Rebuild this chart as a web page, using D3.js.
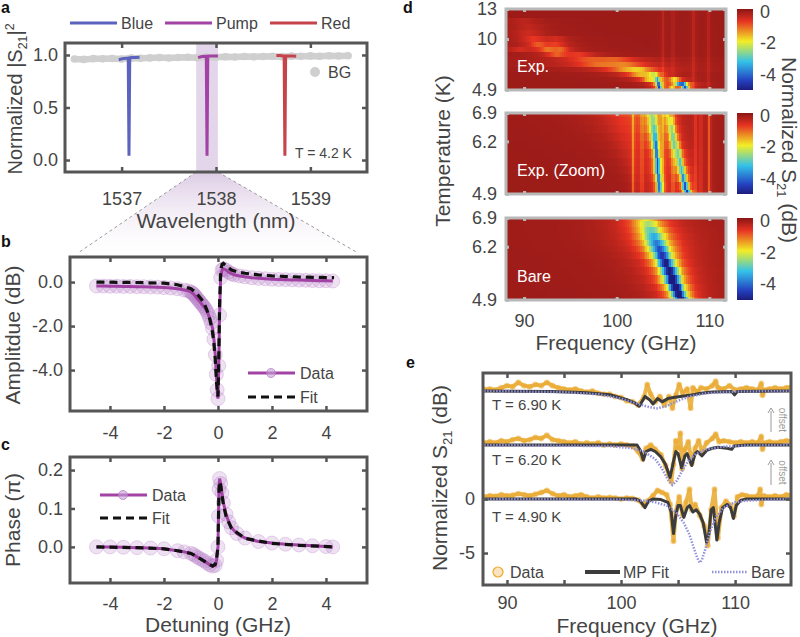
<!DOCTYPE html>
<html>
<head>
<meta charset="utf-8">
<script src="https://cdn.jsdelivr.net/npm/d3@7"></script>
<style>
  body { margin: 0; background: #fff; }
  text { font-family: "Liberation Sans", Arial, sans-serif; fill: #444; }
</style>
</head>
<body>
<div id="fig"></div>
<script>
// ---------- panel a : transmission spectrum ----------
var bgWl = d3.range(0, 30).map(function (i) { return 1536.5 + i * 0.1; });
var bgVal = [0.962,0.958,0.965,0.963,0.967,0.962,0.970,0.968,0.972,0.975,0.971,0.976,0.978,0.974,0.980,
             0.979,0.983,0.981,0.985,0.982,0.986,0.988,0.984,0.989,0.987,0.991,0.988,0.992,0.990,0.993];
var blueWl = [1536.97,1537.01,1537.05,1537.07,1537.078,1537.086,1537.11,1537.15,1537.19];
var blueVal = [0.955,0.965,0.970,0.970,0.04,0.972,0.975,0.975,0.978];
var pumpWl = [1537.81,1537.85,1537.88,1537.897,1537.905,1537.913,1537.94,1537.98,1538.02];
var pumpVal = [0.975,0.985,0.988,0.988,0.04,0.988,0.99,0.99,0.99];
var redWl = [1538.64,1538.68,1538.71,1538.722,1538.73,1538.738,1538.77,1538.81,1538.85];
var redVal = [0.995,0.995,0.99,0.99,0.04,0.99,0.99,0.99,0.988];
var pumpBand = [1537.79, 1538.02];

// ---------- panel b / c : pump resonance ----------
var ampDet = [-4.5,-4.25,-4,-3.75,-3.5,-3.25,-3,-2.75,-2.5,-2.25,-2,-1.75,-1.5,-1.25,-1.1,-1.0,-0.95,-0.9,-0.85,-0.8,-0.75,-0.7,-0.65,-0.6,-0.55,-0.5,-0.45,-0.4,-0.35,-0.3,-0.25,-0.2,-0.15,-0.1,-0.06,-0.03,0,0.03,0.06,0.1,0.15,0.2,0.3,0.4,0.5,0.6,0.8,1.0,1.25,1.5,1.75,2,2.25,2.5,2.75,3,3.25,3.5,3.75,4,4.25];
var ampData = [-0.18,-0.18,-0.19,-0.19,-0.2,-0.2,-0.21,-0.21,-0.22,-0.23,-0.25,-0.27,-0.3,-0.36,-0.4,-0.45,-0.5,-0.55,-0.62,-0.7,-0.78,-0.85,-0.92,-1.0,-1.08,-1.15,-1.25,-1.35,-1.5,-1.65,-1.85,-2.1,-2.6,-3.3,-4.2,-4.9,-5.3,-3.8,-1.5,0.2,0.55,0.6,0.55,0.45,0.38,0.33,0.28,0.24,0.2,0.17,0.15,0.13,0.12,0.11,0.1,0.09,0.08,0.07,0.06,0.06,0.05];
var fitDet = [-4.5,-3,-2,-1.5,-1,-0.8,-0.6,-0.5,-0.4,-0.3,-0.2,-0.15,-0.1,-0.05,0,0.03,0.06,0.1,0.15,0.2,0.3,0.5,0.75,1,1.5,2,3,4.3];
var ampFit = [0,-0.02,-0.05,-0.12,-0.3,-0.5,-0.8,-1.0,-1.3,-1.7,-2.3,-2.8,-3.5,-4.6,-5.2,-3.5,-1.0,0.5,0.8,0.85,0.75,0.55,0.45,0.4,0.33,0.28,0.23,0.2];
var phDet = [-4.5,-4,-3.5,-3,-2.5,-2,-1.5,-1.25,-1.0,-0.9,-0.8,-0.7,-0.6,-0.5,-0.4,-0.3,-0.2,-0.1,-0.05,0,0.02,0.04,0.06,0.1,0.15,0.2,0.3,0.4,0.5,0.7,1.0,1.5,2,2.5,3,3.5,4,4.25];
var phData = [0.0,0.0,-0.001,-0.002,-0.003,-0.005,-0.01,-0.013,-0.017,-0.02,-0.025,-0.029,-0.033,-0.037,-0.042,-0.047,-0.05,-0.048,-0.035,0.0,0.08,0.15,0.178,0.165,0.14,0.115,0.085,0.065,0.05,0.035,0.023,0.014,0.01,0.007,0.005,0.003,0.001,0.0];
var phFitDet = [-4.5,-3,-2,-1.5,-1,-0.6,-0.4,-0.2,-0.1,-0.05,0,0.02,0.04,0.06,0.1,0.15,0.2,0.3,0.5,1,2,3,4.3];
var phFit = [0,-0.002,-0.005,-0.01,-0.017,-0.033,-0.042,-0.05,-0.045,-0.03,0.0,0.08,0.15,0.17,0.16,0.135,0.11,0.08,0.048,0.022,0.009,0.004,0.0];

// ---------- panel d : heat maps (rows of resonance dips [f0, depth dB, half width]) ----------
var exp1T = [13.0,12.4,11.8,11.2,10.6,10.0,9.5,9.0,8.5,8.0,7.5,7.0,6.5,6.0,5.5,5.1,4.9];
var exp1Stripes = [[105.0,-0.25,0.12],[106.1,-0.25,0.12],[108.3,-0.35,0.15],[109.9,-0.35,0.12]];
var exp1Dips = [
  [], [], [[90,-0.25,1.5]], [[90.5,-0.3,1.5]], [[90.5,-0.4,1.5]],
  [[91.0,-0.6,1.2],[93.5,-0.35,1.0]],
  [[91.5,-0.8,1.0],[93.5,-0.55,1.0]],
  [[92.5,-0.9,1.0],[94.0,-0.7,0.8],[89.5,-0.35,1.0]],
  [[93.5,-0.8,1.0],[96,-0.55,1.5]],
  [[97,-0.7,2.5],[100,-0.65,2]],
  [[98,-0.8,2.5],[101,-0.85,2]],
  [[101,-0.9,2],[102.5,-1.1,1.5]],
  [[102.5,-1.3,1.2],[104,-1.7,0.6]],
  [[103.5,-1.4,0.8],[104.4,-2.8,0.3],[106.3,-1.6,0.5]],
  [[104.5,-4.2,0.3],[106.7,-2.5,0.4],[107.2,-3.0,0.4]],
  [[104.6,-4.3,0.25],[107.4,-4.2,0.3],[106,-1.5,0.3]],
  [[104.6,-3.5,0.25],[107.6,-3.8,0.3],[108.4,-1.5,0.2]]
];
var zoomT = [6.9,6.7,6.5,6.3,6.1,5.9,5.7,5.5,5.3,5.1,4.9];
var zoomStripes = [[101.8,-0.8,0.12],[102.7,-0.6,0.15],[104.95,-0.6,0.1],[106.1,-0.8,0.12],[108.5,-0.7,0.12],[109.1,-0.5,0.12],[110.0,-0.8,0.12]];
var zoomDips = [
  [[100.8,-0.65,2.5],[103.8,-2.1,0.6],[105.5,-1.5,0.45]],
  [[100.9,-0.55,2.3],[103.9,-2.3,0.55],[105.7,-1.7,0.45]],
  [[101.0,-0.5,2.1],[104.0,-2.7,0.5],[105.9,-1.9,0.45]],
  [[101.2,-0.45,1.9],[104.1,-3.2,0.4],[106.1,-2.1,0.45]],
  [[101.4,-0.4,1.7],[104.2,-3.7,0.35],[106.3,-2.3,0.45]],
  [[101.6,-0.35,1.5],[104.3,-4.0,0.3],[106.6,-2.6,0.45]],
  [[101.8,-0.3,1.3],[104.4,-4.2,0.3],[106.8,-2.9,0.4]],
  [[102.0,-0.25,1.1],[104.4,-4.2,0.3],[107.0,-3.2,0.4]],
  [[102.2,-0.2,1.0],[104.5,-4.0,0.3],[107.2,-3.6,0.35]],
  [[102.4,-0.15,0.9],[104.6,-3.8,0.3],[107.4,-4.2,0.3]],
  [[102.6,-0.1,0.8],[104.6,-3.6,0.3],[107.6,-4.5,0.3]]
];
var bareT = [6.9,6.75,6.6,6.45,6.3,6.15,6.0,5.8,5.6,5.4,5.2,5.05,4.9];
var bareF0 = [103.1,103.4,103.7,104.0,104.3,104.6,104.9,105.3,105.7,106.0,106.4,106.7,106.9];
var bareDepth = [-1.9,-2.4,-2.9,-3.4,-3.9,-4.3,-4.6,-5.0,-5.3,-5.5,-5.6,-5.7,-5.8];
var bareWidth = [1.6,1.5,1.4,1.3,1.2,1.1,1.0,0.9,0.85,0.8,0.75,0.7,0.7];

// ---------- panel e : spectra at three temperatures ----------
var fit49 = [[88,0],[101.3,0],[101.7,-0.2],[102.1,-0.8],[102.4,-0.2],[102.8,0],[103.5,-0.05],[104.1,-0.3],[104.4,-1.2],[104.6,-3.2],[104.8,-1.5],[105.0,-0.6],[105.2,-0.6],[105.5,-1.7],[105.8,-0.8],[106.0,-0.6],[106.3,-1.2],[106.6,-1.0],[106.9,-1.4],[107.2,-2.2],[107.5,-4.0],[107.7,-3.2],[107.9,-1.0],[108.1,-0.8],[108.4,-3.8],[108.6,-2.2],[108.9,-0.8],[109.3,-0.5],[109.6,-0.8],[109.85,-1.8],[110.1,-0.6],[110.5,-0.1],[111,0],[115,0]];
var bare49 = [[88,0],[100,-0.05],[102,-0.15],[103,-0.3],[104,-0.6],[104.8,-1.2],[105.5,-2.2],[106,-3.3],[106.4,-4.6],[106.7,-5.5],[106.9,-5.9],[107.1,-5.6],[107.4,-4.6],[107.8,-3.0],[108.3,-1.7],[109,-0.8],[110,-0.3],[111,-0.15],[113,-0.05],[115,0]];
var data49 = [[88,0.2],[88.5,0.3],[89,0.25],[89.5,0.4],[90,0.3],[90.5,0.35],[91,0.5],[91.5,0.4],[92,0.3],[92.5,0.45],[93,0.6],[93.5,0.8],[94,0.5],[94.5,0.3],[95,0.4],[95.5,0.2],[96,0.3],[96.5,0.4],[97,0.2],[97.5,0.1],[98,0.2],[98.5,0.1],[99,0.15],[99.5,0.1],[100,0.0],[100.5,0.1],[101,0.05],[101.5,-0.1],[102,-0.6],[102.3,-0.2],[102.8,0.3],[103.2,0.8],[103.6,0.6],[104,0.4],[104.3,-0.5],[104.6,-3.9],[104.8,-1.2],[105.1,0.2],[105.4,-1.5],[105.7,-0.3],[106,0.9],[106.2,-1.0],[106.5,-0.5],[106.9,-1.5],[107.3,-2.5],[107.6,-4.3],[107.9,-1.0],[108.2,0.9],[108.5,-3.6],[108.8,-0.8],[109.2,-0.2],[109.6,-0.6],[109.9,-1.6],[110.2,0.2],[110.6,0.4],[111,0.3],[111.5,0.2],[112,0.3],[112.2,0.9],[112.3,-0.5],[112.5,0.3],[113,0.2],[113.5,0.3],[114,0.2],[114.5,0.4],[115,0.3]];
var fit62 = [[88,0],[101.4,0],[101.7,-0.5],[101.95,-1.4],[102.2,-0.6],[102.6,-0.4],[103.0,-0.6],[103.5,-1.1],[103.9,-1.8],[104.3,-3.0],[104.6,-1.5],[104.8,-0.6],[105.0,-0.8],[105.3,-2.1],[105.6,-1.0],[105.8,-0.8],[106.2,-1.9],[106.5,-0.8],[106.7,-0.6],[107.1,-1.0],[107.5,-0.5],[108,-0.3],[108.5,-0.2],[109.3,-0.3],[109.7,-0.4],[109.9,-0.1],[111,0],[115,0]];
var bare62 = [[88,0],[99,-0.1],[101,-0.3],[102,-0.6],[103,-1.3],[103.6,-2.2],[104.1,-3.2],[104.5,-3.7],[104.9,-3.3],[105.4,-2.3],[106,-1.3],[106.6,-0.8],[107.5,-0.4],[109,-0.15],[111,-0.05],[115,0]];
var data62 = [[88,0.2],[88.5,0.3],[89,0.2],[89.5,0.4],[90,0.3],[90.5,0.5],[91,0.6],[91.5,0.4],[92,0.5],[92.5,0.7],[93,0.6],[93.5,0.9],[94,0.5],[94.5,0.4],[95,0.3],[95.5,0.2],[96,0.3],[96.5,0.1],[97,0.2],[97.5,0.1],[98,0.2],[98.5,0.0],[99,0.1],[99.5,0.0],[100,0.1],[100.5,0.0],[101,-0.1],[101.5,-0.6],[101.9,-1.3],[102.2,-0.3],[102.6,0.0],[103,-0.4],[103.5,-0.9],[103.9,-1.9],[104.2,-2.8],[104.4,-3.4],[104.6,-1.8],[104.8,0.4],[105.0,-0.3],[105.2,1.1],[105.35,-2.2],[105.6,-0.4],[105.9,0.3],[106.2,-1.7],[106.5,-0.3],[106.8,0.4],[107.1,-0.6],[107.5,0.2],[108,0.6],[108.3,1.0],[108.6,0.3],[109,0.4],[109.5,0.3],[110,0.2],[110.5,0.3],[111,0.2],[111.5,0.3],[112,0.2],[112.3,0.8],[112.4,-0.4],[112.6,0.2],[113,0.3],[113.5,0.2],[114,0.3],[114.5,0.4],[115,0.3]];
var fit69 = [[88,0],[94,-0.05],[97,-0.15],[99,-0.35],[100.5,-0.8],[101.2,-1.1],[101.6,-1.4],[102.1,-0.5],[102.5,-0.8],[102.8,-1.2],[103.2,-0.7],[103.6,-1.0],[104.1,-0.7],[104.6,-0.6],[105.2,-0.5],[106,-0.4],[107,-0.2],[108,-0.1],[109.7,-0.05],[109.95,-0.35],[110.2,-0.05],[115,0]];
var bare69 = [[88,0],[95,-0.1],[98,-0.3],[100,-0.7],[101.5,-1.2],[102.5,-1.5],[103.2,-1.6],[104,-1.4],[105,-0.9],[106,-0.5],[107.5,-0.2],[110,-0.05],[115,0]];
var data69 = [[88,0.15],[88.5,0.2],[89,0.1],[89.5,0.3],[90,0.5],[90.5,0.4],[91,0.8],[91.5,0.5],[92,0.4],[92.5,0.6],[93,0.5],[93.5,0.8],[94,0.5],[94.5,0.3],[95,0.2],[95.5,0.1],[96,0.2],[96.5,0.0],[97,-0.1],[97.5,0.0],[98,-0.2],[98.5,-0.3],[99,-0.3],[99.5,-0.5],[100,-0.6],[100.5,-0.9],[101,-1.0],[101.5,-1.3],[102,-0.6],[102.3,0.6],[102.6,-0.3],[103,-1.0],[103.4,-0.5],[103.8,-1.3],[104.2,-0.5],[104.5,-1.6],[104.8,-0.4],[105.1,0.6],[105.4,-0.2],[105.8,0.2],[106.1,-1.6],[106.3,0.3],[106.7,-0.1],[107,0.3],[107.5,0.2],[108,0.5],[108.3,0.9],[108.5,0.3],[109,0.2],[109.5,0.5],[110,0.1],[110.5,0.2],[111,0.3],[111.5,0.2],[112,0.1],[112.3,0.7],[112.4,-0.4],[112.6,0.1],[113,0.2],[113.5,0.3],[114,0.2],[114.5,0.3],[115,0.4]];
var eOffsets = [0, 5, 10];
var eLabels = ["T = 4.90 K", "T = 6.20 K", "T = 6.90 K"];

// ---------- figure ----------
var ink = "#555", purple = "#a142a4", lav = "rgba(178,120,196,0.22)";
var orange = "#e9a82a", fitCol = "#3c3c3c", bareCol = "#9090dc";

var svg = d3.select("#fig").append("svg")
    .attr("width", 800)
    .attr("height", 637);
var defs = svg.append("defs");

// box with inward ticks on all sides
function frame(g, x, y, o) {
    var xr = x.range(), yr = y.range();
    var tl = o.tl || 5;
    var list = [
        [d3.axisBottom(x).tickValues(o.xt).tickSize(-tl).tickPadding(o.xpad || 16).tickFormat(o.xf || function () { return ""; }), "translate(0," + yr[0] + ")"],
        [d3.axisTop(x).tickValues(o.xt).tickSize(-tl).tickFormat(function () { return ""; }), "translate(0," + yr[1] + ")"],
        [d3.axisLeft(y).tickValues(o.yt).tickSize(-tl).tickPadding(o.ypad || 7).tickFormat(o.yf || function () { return ""; }), "translate(" + xr[0] + ",0)"],
        [d3.axisRight(y).tickValues(o.yt).tickSize(-tl).tickFormat(function () { return ""; }), "translate(" + xr[1] + ",0)"]
    ];
    list.forEach(function (a) {
        var ax = g.append("g").attr("transform", a[1]).call(a[0]);
        ax.attr("font-family", null).attr("font-size", null);
        ax.select(".domain").remove();
        ax.selectAll("line").attr("stroke", o.color).attr("stroke-width", o.tw || 2.5);
        ax.selectAll("text").attr("fill", "#444").attr("font-size", o.fs || 18);
        ax.selectAll("text").filter(function () { return this.textContent === ""; }).remove();
    });
    g.append("rect")
        .attr("x", xr[0]).attr("y", yr[1])
        .attr("width", xr[1] - xr[0]).attr("height", yr[0] - yr[1])
        .attr("fill", "none").attr("stroke", o.color).attr("stroke-width", o.sw || 3);
}

function ylabel(g, x, y, size, parts, rot) {
    var t = g.append("text")
        .attr("transform", "translate(" + x + "," + y + ") rotate(" + (rot || -90) + ")")
        .attr("text-anchor", "middle")
        .attr("font-size", size);
    parts.forEach(function (p) {
        var s = t.append("tspan").text(p[0]);
        if (p[1] === "sub") s.attr("font-size", size * 0.62).attr("dy", size * 0.25);
        if (p[1] === "up") s.attr("dy", -size * 0.25);
        if (p[1] === "sup") s.attr("font-size", size * 0.62).attr("dy", -size * 0.4);
    });
    return t;
}

function panelLetter(x, y, s) {
    svg.append("text").attr("x", x).attr("y", y).text(s)
        .attr("font-weight", "bold").attr("font-size", 16).style("fill", "#111");
}

function fmt1(v) { return v.toFixed(1); }

// ===== panel a =====
var xA = d3.scaleLinear([1536.4, 1539.6], [65, 367]);
var yA = d3.scaleLinear([-0.114, 1.114], [172, 43]);
var gA = svg.append("g");

// zoom trapezoid towards panel b
var grad = defs.append("linearGradient").attr("id", "fade").attr("x1", 0).attr("y1", 0).attr("x2", 0).attr("y2", 1);
grad.append("stop").attr("offset", 0).attr("stop-color", "#dccbe4");
grad.append("stop").attr("offset", 1).attr("stop-color", "#ffffff").attr("stop-opacity", 0.3);
var bx0 = xA(pumpBand[0]), bx1 = xA(pumpBand[1]);
gA.append("path")
    .attr("d", "M" + bx0 + ",172 L" + bx1 + ",172 L358,253 L78,253 Z")
    .attr("fill", "url(#fade)");
[[bx0, 78], [bx1, 358]].forEach(function (p) {
    gA.append("line").attr("x1", p[0]).attr("y1", 172).attr("x2", p[1]).attr("y2", 253)
        .attr("stroke", "#999").attr("stroke-width", 1).attr("stroke-dasharray", "3,3");
});
gA.append("rect").attr("x", bx0).attr("y", 43).attr("width", bx1 - bx0).attr("height", 129)
    .attr("fill", "#e4d6ea");

var lineA = d3.line().x(function (d) { return xA(d[0]); }).y(function (d) { return yA(d[1]); });
var bgPts = d3.zip(bgWl, bgVal);
gA.append("path").attr("d", lineA(bgPts)).attr("fill", "none").attr("stroke", "#d0d0d0").attr("stroke-width", 6.5);
gA.selectAll(".bg").data(bgPts).enter().append("circle")
    .attr("cx", function (d) { return xA(d[0]); })
    .attr("cy", function (d) { return yA(d[1]); })
    .attr("r", 3.8).attr("fill", "#cfcfcf");

var aSeries = [[blueWl, blueVal, "#5b63be", "Blue"], [pumpWl, pumpVal, purple, "Pump"], [redWl, redVal, "#c6434b", "Red"]];
aSeries.forEach(function (s) {
    gA.append("path").attr("d", lineA(d3.zip(s[0], s[1])))
        .attr("fill", "none").attr("stroke", s[2]).attr("stroke-width", 3);
});
frame(gA, xA, yA, { xt: [1537, 1538, 1539], yt: [0, 0.5, 1], xf: String, yf: fmt1, color: ink, xpad: 20 });

// legend of panel a
var legX = [70, 165, 270];
aSeries.forEach(function (s, i) {
    gA.append("line").attr("x1", legX[i]).attr("x2", legX[i] + 47).attr("y1", 23).attr("y2", 23)
        .attr("stroke", s[2]).attr("stroke-width", 3);
    gA.append("text").attr("x", legX[i] + 51).attr("y", 29).attr("font-size", 16).text(s[3]);
});
gA.append("circle").attr("cx", 315).attr("cy", 72).attr("r", 5).attr("fill", "#cfcfcf");
gA.append("text").attr("x", 328).attr("y", 78).attr("font-size", 16).text("BG");
gA.append("text").attr("x", 295).attr("y", 158).attr("font-size", 14).text("T = 4.2 K");
gA.append("text").attr("x", 216).attr("y", 228).attr("text-anchor", "middle").attr("font-size", 21).text("Wavelength (nm)");
ylabel(gA, 22, 99, 20, [["Normalized |S"], ["21", "sub"], ["|", "up"], ["2", "sup"]]);
panelLetter(1, 13, "a");

// ===== panel b =====
var xB = d3.scaleLinear([-5.48, 5.52], [70, 367]);
var yB = d3.scaleLinear([-5.86, 1.14], [411, 257]);
var gB = svg.append("g");
var lineB = d3.line().x(function (d) { return xB(d[0]); }).y(function (d) { return yB(d[1]); });
var bData = d3.zip(ampDet, ampData);
gB.selectAll(".m").data(bData).enter().append("circle")
    .attr("cx", function (d) { return xB(d[0]); })
    .attr("cy", function (d) { return yB(d[1]); })
    .attr("r", 7).attr("fill", lav).attr("stroke", "rgba(178,120,196,0.3)");
gB.append("path").attr("d", lineB(bData)).attr("fill", "none").attr("stroke", purple).attr("stroke-width", 3);
gB.append("path").attr("d", lineB(d3.zip(fitDet, ampFit))).attr("fill", "none")
    .attr("stroke", "#111").attr("stroke-width", 3.2).attr("stroke-dasharray", "8,5");
frame(gB, xB, yB, { xt: [-4, -2, 0, 2, 4], yt: [-4, -2, 0], xf: String, yf: fmt1, color: ink, xpad: 15 });
ylabel(gB, 20, 335, 21, [["Amplitdue (dB)"]]);
panelLetter(1, 247, "b");

function dataFitLegend(g, x, y1, y2) {
    g.append("line").attr("x1", x).attr("x2", x + 47).attr("y1", y1).attr("y2", y1).attr("stroke", purple).attr("stroke-width", 3);
    g.append("circle").attr("cx", x + 23).attr("cy", y1).attr("r", 4.5).attr("fill", "rgba(200,160,215,0.6)").attr("stroke", "rgba(178,120,196,0.7)");
    g.append("text").attr("x", x + 52).attr("y", y1 + 6).attr("font-size", 16).text("Data");
    g.append("line").attr("x1", x).attr("x2", x + 47).attr("y1", y2).attr("y2", y2).attr("stroke", "#111")
        .attr("stroke-width", 3.2).attr("stroke-dasharray", "8,5");
    g.append("text").attr("x", x + 52).attr("y", y2 + 6).attr("font-size", 16).text("Fit");
}
dataFitLegend(gB, 248, 373, 397);

// ===== panel c =====
var xC = d3.scaleLinear([-5.48, 5.52], [70, 367]);
var yC = d3.scaleLinear([-0.094, 0.234], [583, 457]);
var gC = svg.append("g");
var lineC = d3.line().x(function (d) { return xC(d[0]); }).y(function (d) { return yC(d[1]); });
var cData = d3.zip(phDet, phData);
gC.selectAll(".m").data(cData).enter().append("circle")
    .attr("cx", function (d) { return xC(d[0]); })
    .attr("cy", function (d) { return yC(d[1]); })
    .attr("r", 7).attr("fill", lav).attr("stroke", "rgba(178,120,196,0.3)");
gC.append("path").attr("d", lineC(cData)).attr("fill", "none").attr("stroke", purple).attr("stroke-width", 3);
gC.append("path").attr("d", lineC(d3.zip(phFitDet, phFit))).attr("fill", "none")
    .attr("stroke", "#111").attr("stroke-width", 3.2).attr("stroke-dasharray", "8,5");
frame(gC, xC, yC, { xt: [-4, -2, 0, 2, 4], yt: [0, 0.1, 0.2], xf: String, yf: fmt1, color: ink, xpad: 14 });
dataFitLegend(gC, 100, 495, 518);
gC.append("text").attr("x", 218).attr("y", 632).attr("text-anchor", "middle").attr("font-size", 21).text("Detuning (GHz)");
ylabel(gC, 20, 520, 21, [["Phase (\u03c0)"]]);
panelLetter(1, 450, "c");

// ===== panel d =====
var jet = d3.scaleLinear()
    .domain([0, 0.12, 0.35, 0.6, 0.85, 1].map(function (t) { return -5 + t * 5.15; }))
    .range(["#1c1c7c", "#2442c2", "#34c2e8", "#f2ee26", "#e63222", "#8a1616"])
    .clamp(true);
var xD = d3.scaleLinear([88.05, 111.8], [506, 726]);
var freqGrid = d3.range(88, 112.01, 0.2);

function dipValue(f, dips) {
    var v = 0;
    dips.forEach(function (p) { v += p[1] * p[2] * p[2] / ((f - p[0]) * (f - p[0]) + p[2] * p[2]); });
    return Math.max(v, -5);
}

function heatmap(id, top, bottom, tDom, Ts, rows, yt, label, showX) {
    var y = d3.scaleLinear(tDom, [bottom, top]);
    var g = svg.append("g");
    defs.append("clipPath").attr("id", id).append("rect")
        .attr("x", 506).attr("y", top).attr("width", 220).attr("height", bottom - top);
    var cells = g.append("g").attr("clip-path", "url(#" + id + ")").attr("shape-rendering", "crispEdges");
    Ts.forEach(function (T, i) {
        var hi = i === 0 ? tDom[1] + 0.5 : (T + Ts[i - 1]) / 2;
        var lo = i === Ts.length - 1 ? tDom[0] - 0.5 : (T + Ts[i + 1]) / 2;
        freqGrid.forEach(function (f) {
            cells.append("rect")
                .attr("x", xD(f - 0.1)).attr("y", y(hi))
                .attr("width", xD(f + 0.1) - xD(f - 0.1) + 0.6)
                .attr("height", y(lo) - y(hi) + 0.6)
                .attr("fill", jet(dipValue(f, rows[i])));
        });
    });
    frame(g, xD, y, {
        xt: [90, 100, 110], yt: yt, xf: showX ? String : null, yf: String,
        color: "#b8b8b8", tl: 3, tw: 3, sw: 3, xpad: 14, ypad: 9
    });
    g.append("text").attr("x", 517).attr("y", bottom - 18).attr("font-size", 16)
        .style("fill", "#fff").text(label);
    // colour bar
    var cb = d3.scaleLinear([-5, 0.15], [bottom, top]);
    var cbg = g.append("g").attr("shape-rendering", "crispEdges");
    d3.range(top, bottom, 1).forEach(function (py) {
        cbg.append("rect").attr("x", 737).attr("y", py).attr("width", 16).attr("height", 1.2)
            .attr("fill", jet(cb.invert(py + 0.5)));
    });
    [0, -2, -4].forEach(function (v) {
        g.append("text").attr("x", 760).attr("y", cb(v)).attr("dy", "0.35em")
            .attr("font-size", 18).text(String(v));
    });
}

var exp1Rows = exp1Dips.map(function (r) { return r.concat(exp1Stripes); });
var zoomRows = zoomDips.map(function (r) { return r.concat(zoomStripes); });
var bareRows = bareT.map(function (t, i) { return [[bareF0[i], bareDepth[i], bareWidth[i]]]; });
heatmap("h1", 9, 90, [4.9, 13], exp1T, exp1Rows, [4.9, 10, 13], "Exp.", false);
heatmap("h2", 113, 194, [4.9, 6.9], zoomT, zoomRows, [4.9, 6.2, 6.9], "Exp. (Zoom)", false);
heatmap("h3", 218, 300, [4.9, 6.9], bareT, bareRows, [4.9, 6.2, 6.9], "Bare", true);

svg.append("text").attr("x", 616).attr("y", 350).attr("text-anchor", "middle").attr("font-size", 21).text("Frequency (GHz)");
ylabel(svg, 450, 151, 21, [["Temperature (K)"]]);
ylabel(svg, 782, 150, 21, [["Normalized S"], ["21", "sub"], [" (dB)", "up"]], 90);
panelLetter(403, 13, "d");

// ===== panel e =====
var xE = d3.scaleLinear([87.9, 114.9], [483, 791]);
var yE = d3.scaleLinear([-7.96, 11.67], [585, 373]);
var gE = svg.append("g");
defs.append("clipPath").attr("id", "ce").append("rect").attr("x", 483).attr("y", 373).attr("width", 308).attr("height", 212);
var plotE = gE.append("g").attr("clip-path", "url(#ce)");
var eData = [data49, data62, data69], eFit = [fit49, fit62, fit69], eBare = [bare49, bare62, bare69];
eOffsets.forEach(function (off, i) {
    var lineE = d3.line().x(function (d) { return xE(d[0]); }).y(function (d) { return yE(d[1] + off); });
    plotE.append("path").attr("d", lineE(eData[i])).attr("fill", "none")
        .attr("stroke", orange).attr("stroke-width", 4).attr("stroke-opacity", 0.85).attr("stroke-linejoin", "round");
    plotE.selectAll(".d" + i).data(eData[i]).enter().append("circle")
        .attr("cx", function (d) { return xE(d[0]); })
        .attr("cy", function (d) { return yE(d[1] + off); })
        .attr("r", 3).attr("fill", orange).attr("fill-opacity", 0.5);
    plotE.append("path").attr("d", lineE(eFit[i])).attr("fill", "none")
        .attr("stroke", fitCol).attr("stroke-width", 3).attr("stroke-linejoin", "round");
    plotE.append("path").attr("d", lineE(eBare[i])).attr("fill", "none")
        .attr("stroke", bareCol).attr("stroke-width", 2.5).attr("stroke-dasharray", "1.5,1.5");
});
frame(gE, xE, yE, { xt: [90, 95, 100, 105, 110], yt: [-5, 0], xf: function (v) { return v % 10 === 0 ? String(v) : ""; }, yf: String, color: ink, xpad: 11, ypad: 8 });

var tY = [522, 465, 410];
eLabels.forEach(function (s, i) {
    gE.append("text").attr("x", 492).attr("y", tY[i]).attr("font-size", 15).text(s);
});
// offset arrows
[[408, 432], [460, 485]].forEach(function (p) {
    gE.append("line").attr("x1", 771).attr("x2", 771).attr("y1", p[1]).attr("y2", p[0] + 3)
        .attr("stroke", "#999").attr("stroke-width", 1);
    gE.append("path").attr("d", "M768," + (p[0] + 5) + " L771," + p[0] + " L774," + (p[0] + 5))
        .attr("fill", "none").attr("stroke", "#999").attr("stroke-width", 1);
    gE.append("text").attr("transform", "translate(779," + ((p[0] + p[1]) / 2) + ") rotate(90)")
        .attr("text-anchor", "middle").attr("font-size", 10).style("fill", "#999").text("offset");
});
// legend of panel e
gE.append("circle").attr("cx", 498).attr("cy", 572).attr("r", 5).attr("fill", "rgba(233,168,42,0.3)").attr("stroke", orange).attr("stroke-width", 1.2);
gE.append("text").attr("x", 510).attr("y", 578).attr("font-size", 16).text("Data");
gE.append("line").attr("x1", 585).attr("x2", 620).attr("y1", 572).attr("y2", 572).attr("stroke", fitCol).attr("stroke-width", 4);
gE.append("text").attr("x", 623).attr("y", 578).attr("font-size", 16).text("MP Fit");
gE.append("line").attr("x1", 712).attr("x2", 747).attr("y1", 572).attr("y2", 572).attr("stroke", bareCol).attr("stroke-width", 2.5).attr("stroke-dasharray", "1.5,1.5");
gE.append("text").attr("x", 751).attr("y", 578).attr("font-size", 16).text("Bare");

gE.append("text").attr("x", 637).attr("y", 633).attr("text-anchor", "middle").attr("font-size", 21).text("Frequency (GHz)");
ylabel(gE, 447, 478, 21, [["Normalized S"], ["21", "sub"], [" (dB)", "up"]]);
panelLetter(406, 368, "e");
</script>
</body>
</html>
